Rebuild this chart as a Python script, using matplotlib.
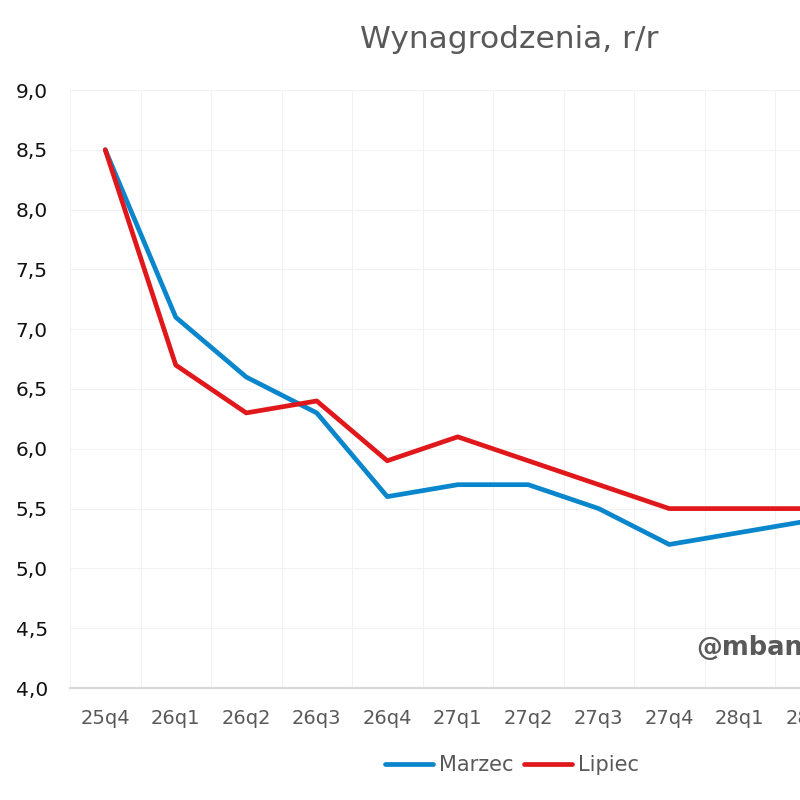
import matplotlib
matplotlib.use("Agg")
import matplotlib.pyplot as plt
from matplotlib.ticker import FixedLocator, FuncFormatter

categories = ["25q4", "26q1", "26q2", "26q3", "26q4", "27q1", "27q2", "27q3",
              "27q4", "28q1", "28q2"]
marzec = [8.5, 7.1, 6.6, 6.3, 5.6, 5.7, 5.7, 5.5, 5.2, 5.3, 5.4]
lipiec = [8.5, 6.7, 6.3, 6.4, 5.9, 6.1, 5.9, 5.7, 5.5, 5.5, 5.5]
yticks = [4.0, 4.5, 5.0, 5.5, 6.0, 6.5, 7.0, 7.5, 8.0, 8.5, 9.0]

W, H = 800, 800
fig = plt.figure(figsize=(8, 8), dpi=100)
step = 70.5
left_px = 70
ncat_span = 12
ax = fig.add_axes([left_px / W, 1 - 688 / H, ncat_span * step / W, (688 - 90) / H])

x = list(range(len(categories)))
ax.plot(x, marzec, color="#0A86CC", lw=3.4, solid_capstyle="round",
        solid_joinstyle="round", label="Marzec", zorder=3)
ax.plot(x, lipiec, color="#E0181B", lw=3.4, solid_capstyle="round",
        solid_joinstyle="round", label="Lipiec", zorder=4)

ax.set_xlim(-0.5, ncat_span - 0.5)
ax.set_ylim(4.0, 9.0)
ax.set_xticks(x)
ax.set_xticklabels(categories)
ax.yaxis.set_major_locator(FixedLocator(yticks))
ax.yaxis.set_major_formatter(FuncFormatter(lambda v, p: f"{v:.1f}".replace(".", ",")))
ax.set_xticks([i - 0.5 for i in range(ncat_span + 1)], minor=True)

ax.grid(False)
ax.grid(True, which="minor", axis="x", color="#F2F2F2", lw=0.8)
ax.grid(True, which="major", axis="y", color="#F2F2F2", lw=0.8)
ax.set_axisbelow(True)

for s in ["top", "right", "left"]:
    ax.spines[s].set_visible(False)
ax.spines["bottom"].set_color("#D9D9D9")
ax.spines["bottom"].set_linewidth(1.6)
ax.spines["bottom"].set_zorder(5)

ax.tick_params(axis="y", length=0, pad=16, labelsize=14.5, labelcolor="#111111")
ax.tick_params(axis="x", which="both", length=0, pad=15, labelsize=14, labelcolor="#595959")

fig.text(509 / W, 1 - 40 / H, "Wynagrodzenia, r/r", ha="center", va="center",
         fontsize=22.5, color="#595959")
fig.text(696 / W, 1 - 648 / H, "@mbank_research", ha="left", va="center",
         fontsize=18.5, fontweight="bold", color="#595959")

fig.legend(loc="center", bbox_to_anchor=(512 / W, 1 - 765 / H), ncol=2, frameon=False,
           fontsize=15, handlelength=2.3, handletextpad=0.3, columnspacing=0.5,
           labelcolor="#595959")

fig.savefig("out.png", dpi=100)
